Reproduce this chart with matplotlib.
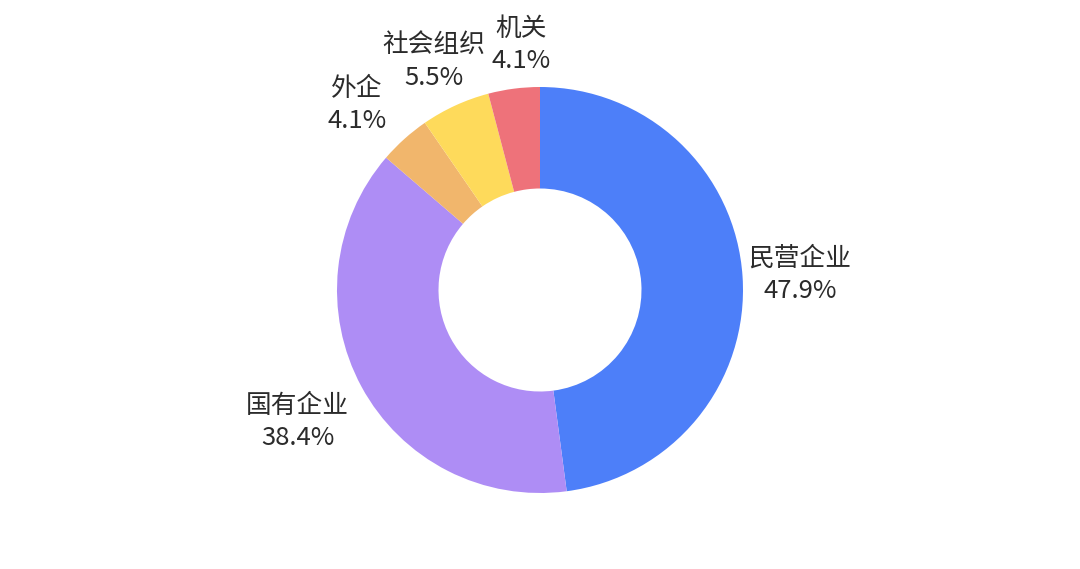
import matplotlib.pyplot as plt
import numpy as np

plt.rcParams['font.family'] = ['Noto Sans CJK SC', 'DejaVu Sans']

# data
labels = ['民营企业', '国有企业', '外企', '社会组织', '机关']
values = [47.9, 38.4, 4.1, 5.5, 4.1]
colors = ['#4D7FF9', '#AE8DF5', '#F1B66C', '#FEDA5B', '#EE727A']

# label placement: distance from centre (in radii) and small angle nudge (deg)
label_r = [1.283, 1.36, 1.28, 1.24, 1.21]
label_da = [-0.5, 0.2, 2.8, 0.3, -3.0]

fig = plt.figure(figsize=(10.8, 5.69), dpi=100)
ax = fig.add_axes([0, 0, 1, 1])

# slices meet without a gap in the reference
wedges, _ = ax.pie(values, colors=colors, startangle=90, counterclock=False,
                   radius=1.0, wedgeprops=dict(width=0.5, linewidth=0))

# labels outside each slice
total = sum(values)
start = 90.0
for lab, v, r, da in zip(labels, values, label_r, label_da):
    mid = np.deg2rad(start - 360.0 * v / total / 2 + da)
    start -= 360.0 * v / total
    x, y = r * np.cos(mid), r * np.sin(mid)
    ax.text(x, y, f'{lab}\n{v:.1f}%', ha='center', va='center',
            fontsize=18.5, color='#2b2b2b', linespacing=1.3)

# keep the ring where it sits in the picture (center at 540, 290 px)
scale = 203.0
ax.set_xlim(-540 / scale, 540 / scale)
ax.set_ylim(-279 / scale, 290 / scale)
ax.set_aspect('auto')
ax.axis('off')

plt.savefig('out.png', dpi=100)
